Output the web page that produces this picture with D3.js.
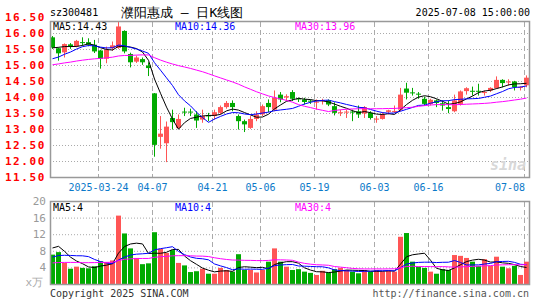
<!DOCTYPE html>
<html>
<head>
<meta charset="utf-8">
<script src="https://cdn.jsdelivr.net/npm/d3@7"></script>
<style>
body { margin: 0; background: #fff; }
svg { display: block; }
text { font-family: "DejaVu Sans Mono", monospace; }
</style>
</head>
<body>
<svg id="chart" width="545" height="300"></svg>
<script>
// trading days shown on the chart
const dates = [
    '2025-03-12','2025-03-13','2025-03-14','2025-03-17','2025-03-18','2025-03-19','2025-03-20','2025-03-21',
    '2025-03-24','2025-03-25','2025-03-26','2025-03-27','2025-03-28','2025-03-31',
    '2025-04-01','2025-04-02','2025-04-03','2025-04-07','2025-04-08','2025-04-09','2025-04-10','2025-04-11',
    '2025-04-14','2025-04-15','2025-04-16','2025-04-17','2025-04-18','2025-04-21','2025-04-22','2025-04-23',
    '2025-04-24','2025-04-25','2025-04-28','2025-04-29','2025-04-30',
    '2025-05-06','2025-05-07','2025-05-08','2025-05-09','2025-05-12','2025-05-13','2025-05-14','2025-05-15',
    '2025-05-16','2025-05-19','2025-05-20','2025-05-21','2025-05-22','2025-05-23','2025-05-26','2025-05-27',
    '2025-05-28','2025-05-29','2025-05-30',
    '2025-06-03','2025-06-04','2025-06-05','2025-06-06','2025-06-09','2025-06-10','2025-06-11','2025-06-12',
    '2025-06-13','2025-06-16','2025-06-17','2025-06-18','2025-06-19','2025-06-20','2025-06-23','2025-06-24',
    '2025-06-25','2025-06-26','2025-06-27','2025-06-30',
    '2025-07-01','2025-07-02','2025-07-03','2025-07-04','2025-07-07','2025-07-08'
];

const opens = [
    15.88,15.54,15.41,15.66,15.60,15.73,15.73,15.65,15.47,15.21,15.54,15.55,16.08,15.36,15.12,15.20,15.00,14.13,12.77,12.57,
    13.36,13.05,13.56,13.56,13.47,13.31,13.44,13.42,13.52,13.70,13.83,13.42,13.26,13.05,13.33,13.47,13.83,13.62,14.09,14.00,
    14.17,13.97,13.94,13.90,13.85,13.90,13.91,13.73,13.52,13.54,13.56,13.57,13.50,13.52,13.33,13.33,13.55,13.55,13.62,14.28,
    14.16,14.12,13.96,13.80,13.91,13.82,13.70,13.57,13.80,14.20,14.21,14.21,14.15,14.22,14.29,14.55,14.47,14.50,14.30,14.38
];
const highs = [
    15.92,15.56,15.69,15.70,15.80,15.88,15.85,15.80,15.49,15.59,15.75,16.37,16.10,15.40,15.31,15.25,15.10,14.14,13.42,13.25,
    13.62,13.47,13.68,13.65,13.57,13.62,13.52,13.62,13.75,13.89,13.91,13.47,13.31,13.42,13.57,13.78,13.94,14.22,14.17,14.10,
    14.23,14.00,13.99,13.94,13.94,13.96,13.94,13.85,13.62,13.62,13.62,13.75,13.73,13.57,13.42,13.54,13.62,13.75,14.30,14.46,
    14.30,14.17,14.03,13.96,13.94,13.91,13.91,14.09,14.22,14.32,14.34,14.43,14.22,14.32,14.66,14.57,14.57,14.52,14.35,14.69
];
const lows = [
    15.52,15.15,15.25,15.52,15.57,15.62,15.60,15.39,14.90,15.07,15.46,15.52,15.38,14.94,15.08,15.02,14.67,12.15,12.40,11.98,
    13.00,13.02,13.42,13.42,13.05,13.21,13.26,13.31,13.47,13.65,13.57,13.00,12.92,13.02,13.26,13.42,13.54,13.57,13.85,13.90,
    13.89,13.86,13.78,13.80,13.62,13.78,13.73,13.44,13.42,13.36,13.26,13.36,13.36,13.31,13.21,13.31,13.47,13.52,13.57,13.94,
    14.06,13.96,13.75,13.75,13.70,13.59,13.51,13.54,13.75,14.09,14.06,14.06,14.06,14.17,14.27,14.32,14.37,14.22,14.22,14.32
];
const closes = [
    15.56,15.38,15.67,15.60,15.77,15.71,15.65,15.44,15.21,15.49,15.63,16.22,15.44,15.10,15.25,15.10,14.92,12.52,12.87,13.09,
    13.23,13.33,13.54,13.54,13.28,13.42,13.42,13.54,13.70,13.83,13.70,13.26,13.16,13.33,13.47,13.73,13.70,13.99,13.94,14.04,
    13.96,13.94,13.86,13.88,13.87,13.92,13.78,13.52,13.54,13.56,13.54,13.47,13.70,13.36,13.34,13.47,13.60,13.58,14.09,14.15,
    14.14,14.10,13.80,13.93,13.83,13.75,13.64,13.91,14.19,14.29,14.19,14.18,14.17,14.30,14.55,14.45,14.50,14.32,14.33,14.62
];
// volume, in 万
const volumes = [
    7.2,7.8,5.2,3.8,4.3,4.0,3.9,4.4,5.6,5.4,5.8,16.6,12.3,8.7,6.4,4.9,5.1,12.6,8.6,7.6,
    8.3,5.2,4.6,3.0,3.2,3.8,2.6,2.6,4.0,3.5,3.1,7.3,3.5,3.5,2.9,3.5,5.5,8.7,5.5,4.3,
    3.5,3.7,3.1,2.8,2.3,3.3,2.9,3.7,4.0,3.5,3.1,2.7,3.5,3.1,3.5,3.1,3.3,3.1,11.5,12.4,
    5.5,4.3,4.0,3.1,2.6,3.7,3.5,7.1,6.9,6.4,5.5,4.5,6.1,4.5,6.7,4.3,3.9,4.5,2.3,5.5
];

// sessions before the first visible day, only used so the moving averages start at the left edge
const prevCloses = [
    14.62,14.70,14.85,14.78,14.90,14.95,14.88,14.80,14.92,15.05,15.10,14.98,15.02,14.95,14.90,
    15.00,15.08,15.12,15.05,14.95,14.85,14.80,14.90,14.85,14.95,15.30,15.55,15.60,15.75
];
const prevVolumes = [
    5.2,4.1,3.8,4.6,5.5,4.0,3.9,4.8,4.4,5.0,4.2,3.7,4.9,4.5,4.3,
    5.1,4.6,4.0,4.7,4.7,4.0,4.6,4.2,5.0,4.2,5.8,11.2,10.8,9.0
];

const priceTicks = [16.5, 16.0, 15.5, 15.0, 14.5, 14.0, 13.5, 13.0, 12.5, 12.0, 11.5];
const volTicks = [20, 16, 12, 8, 4];
const dateTicks = ['2025-03-24','2025-04-07','2025-04-21','2025-05-06','2025-05-19','2025-06-03','2025-06-16','2025-07-08'];
const dateTickLabels = ['2025-03-24','04-07','04-21','05-06','05-19','06-03','06-16','07-08'];

const priceLegend = ['MA5:14.43', 'MA10:14.36', 'MA30:13.96'];
const volLegend = ['MA5:4', 'MA10:4', 'MA30:4'];
const maPeriods = [5, 10, 30];
const maColors = ['#000000', '#0000ff', '#ff00ff'];

const UP = '#ff5555', DOWN = '#00aa00';
const GRID = '#aaaaaa', FRAME = '#999999';

const svg = d3.select('#chart');

const x = d3.scaleBand().domain(dates).range([50, 530])
    .paddingInner(1 / 6).paddingOuter(1 / 12).align(0);
const y = d3.scaleLinear().domain([11.5, 16.5]).range([177.5, 17.5]);
const yv = d3.scaleLinear().domain([0, 20]).range([284.5, 201.5]);

const cx = d => x(d) + 2.5;

function movingAvg(series, prev, n) {
    const all = prev.concat(series);
    return series.map((_, i) => {
        const end = prev.length + i + 1;
        return d3.mean(all.slice(end - n, end));
    });
}

// text with a white box behind it, so grid lines do not run through
function legendText(parent, t, xPos, yPos, fill) {
    const g = parent.append('g');
    const txt = g.append('text').attr('x', xPos).attr('y', yPos).attr('dominant-baseline', 'central')
        .attr('font-size', 10).attr('fill', fill).text(t);
    const bb = txt.node().getBBox();
    g.insert('rect', 'text').attr('x', bb.x - 1).attr('y', yPos - 4.5)
        .attr('width', bb.width + 2).attr('height', 10).attr('fill', '#fff');
}

svg.append('defs').append('clipPath').attr('id', 'clipMain')
    .append('rect').attr('x', 50).attr('y', 22).attr('width', 480).attr('height', 156);

// ---- header
svg.append('text').attr('x', 50).attr('y', 16).attr('font-size', 10).attr('fill', '#000').text('sz300481');
svg.append('text').attr('x', 121).attr('y', 17).attr('font-size', 13)
    .attr('font-family', '"Noto Sans CJK SC", sans-serif').attr('fill', '#000').text('濮阳惠成 – 日K线图');
svg.append('text').attr('x', 530).attr('y', 16).attr('font-size', 10).attr('text-anchor', 'end')
    .attr('fill', '#000').text('2025-07-08 15:00:00');

// ---- main panel grid
const main = svg.append('g');
main.selectAll('.hgrid').data(priceTicks.filter(t => t < 16.4 && t > 11.6)).enter()
    .append('line')
    .attr('x1', 50).attr('x2', 530)
    .attr('y1', d => y(d)).attr('y2', d => y(d))
    .attr('stroke', GRID).attr('stroke-dasharray', '1,2');
main.selectAll('.vgrid').data(dateTicks).enter()
    .append('line')
    .attr('x1', d => x(d) + 0.5).attr('x2', d => x(d) + 0.5)
    .attr('y1', 22).attr('y2', 177)
    .attr('stroke', GRID).attr('stroke-dasharray', '5,3');

// legend sits under the candles and lines
const legX = [53, 175, 295];
priceLegend.forEach((t, k) => legendText(main, t, legX[k], 26, maColors[k]));

// candles
const candles = main.append('g').attr('clip-path', 'url(#clipMain)');
const color = i => closes[i] >= opens[i] ? UP : DOWN;
candles.selectAll('.wick').data(dates).enter()
    .append('line')
    .attr('x1', d => cx(d)).attr('x2', d => cx(d))
    .attr('y1', (d, i) => y(highs[i])).attr('y2', (d, i) => y(lows[i]))
    .attr('stroke', (d, i) => color(i));
candles.selectAll('.body').data(dates).enter()
    .append('rect')
    .attr('x', d => x(d))
    .attr('width', x.bandwidth())
    .attr('y', (d, i) => y(Math.max(opens[i], closes[i])))
    .attr('height', (d, i) => Math.max(1, Math.abs(y(opens[i]) - y(closes[i]))))
    .attr('fill', (d, i) => color(i));

// price moving averages
maPeriods.forEach((n, k) => {
    const vals = movingAvg(closes, prevCloses, n);
    candles.append('path')
        .attr('d', d3.line().x((v, i) => cx(dates[i])).y(v => y(v))(vals))
        .attr('fill', 'none').attr('stroke', maColors[k]).attr('stroke-width', 1);
});

// watermark
svg.append('text').attr('x', 508).attr('y', 170).attr('font-size', 15).attr('font-style', 'italic')
    .attr('font-weight', 'bold').attr('font-family', 'Verdana, "DejaVu Sans", sans-serif')
    .attr('fill', '#d8d8d8').attr('text-anchor', 'middle').text('sina');

svg.append('rect').attr('x', 50.5).attr('y', 21.5).attr('width', 479).attr('height', 156)
    .attr('fill', 'none').attr('stroke', FRAME).attr('stroke-width', 1.5);

// y labels
svg.selectAll('.plabel').data(priceTicks).enter()
    .append('text')
    .attr('x', 46).attr('y', d => y(d))
    .attr('dominant-baseline', 'central').attr('text-anchor', 'end')
    .attr('font-size', 11).attr('letter-spacing', 1.6).attr('font-weight', 'bold')
    .attr('fill', '#ff0000')
    .text(d => d.toFixed(2));

// date labels
svg.selectAll('.dlabel').data(dateTicks).enter()
    .append('text')
    .attr('x', (d, i) => i === dateTicks.length - 1 ? x(d) + 1 : x(d) + 0.5)
    .attr('y', 187).attr('dominant-baseline', 'central')
    .attr('text-anchor', (d, i) => i === dateTicks.length - 1 ? 'end' : 'middle')
    .attr('font-size', 10).attr('fill', '#0b79c9')
    .text((d, i) => dateTickLabels[i]);

// ---- volume panel
const vol = svg.append('g');
vol.selectAll('.hgrid').data(volTicks.filter(t => t < 20)).enter()
    .append('line')
    .attr('x1', 50).attr('x2', 530)
    .attr('y1', d => yv(d)).attr('y2', d => yv(d))
    .attr('stroke', GRID).attr('stroke-dasharray', '1,2');
vol.selectAll('.vgrid').data(dateTicks).enter()
    .append('line')
    .attr('x1', d => x(d) + 0.5).attr('x2', d => x(d) + 0.5)
    .attr('y1', 202).attr('y2', 284)
    .attr('stroke', GRID).attr('stroke-dasharray', '5,3');

volLegend.forEach((t, k) => legendText(vol, t, legX[k], 207, maColors[k]));

vol.selectAll('.bar').data(dates).enter()
    .append('rect')
    .attr('x', d => x(d))
    .attr('width', x.bandwidth())
    .attr('y', (d, i) => yv(volumes[i]))
    .attr('height', (d, i) => yv(0) - yv(volumes[i]))
    .attr('fill', (d, i) => color(i));

maPeriods.forEach((n, k) => {
    const vals = movingAvg(volumes, prevVolumes, n);
    vol.append('path')
        .attr('d', d3.line().x((v, i) => cx(dates[i])).y(v => yv(v))(vals))
        .attr('fill', 'none').attr('stroke', maColors[k]).attr('stroke-width', 1);
});

svg.append('rect').attr('x', 50.5).attr('y', 201.5).attr('width', 479).attr('height', 83)
    .attr('fill', 'none').attr('stroke', FRAME).attr('stroke-width', 1.5);

svg.selectAll('.vlabel').data(volTicks).enter()
    .append('text')
    .attr('x', 46).attr('y', d => yv(d))
    .attr('dominant-baseline', 'central').attr('text-anchor', 'end')
    .attr('font-size', 11).attr('fill', '#999')
    .text(d => d);

svg.append('text').attr('x', 43).attr('y', 286).attr('text-anchor', 'end')
    .attr('font-size', 11).attr('fill', '#aaa')
    .attr('font-family', '"Noto Sans CJK SC", sans-serif').text('x万');

// ---- footer
svg.append('text').attr('x', 50).attr('y', 297).attr('font-size', 10).attr('fill', '#333')
    .text('Copyright 2025 SINA.COM');
svg.append('text').attr('x', 529).attr('y', 297).attr('font-size', 10).attr('fill', '#555')
    .attr('text-anchor', 'end').text('http://finance.sina.com.cn');
</script>
</body>
</html>
